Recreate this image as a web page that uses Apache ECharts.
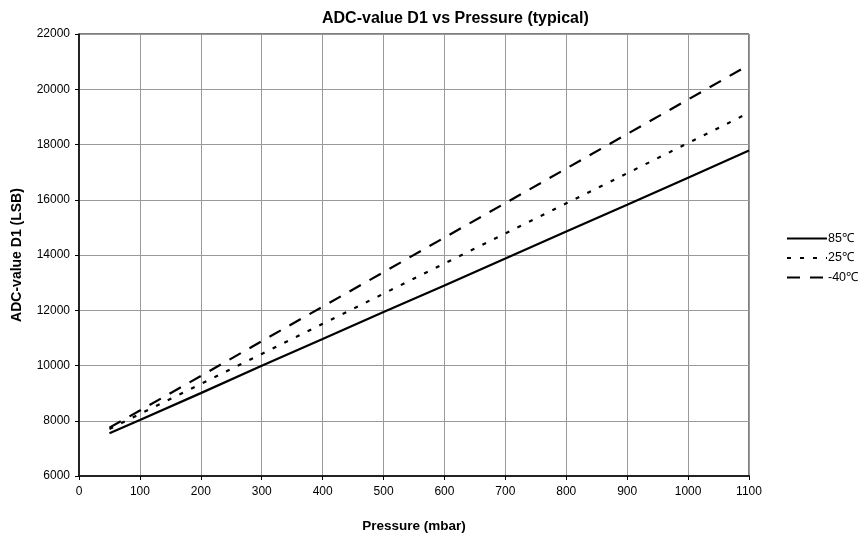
<!DOCTYPE html>
<html><head><meta charset="utf-8">
<script src="https://cdn.jsdelivr.net/npm/echarts@6/dist/echarts.min.js"></script>
<style>html,body{margin:0;padding:0;background:#fff}#c{width:868px;height:538px}</style>
</head><body><div id="c"></div>
<script>
var pressure = [50,100,200,300,400,500,600,700,800,900,1000,1100];
var t85 = [7550,8030,9000,9990,10960,11940,12900,13870,14850,15820,16800,17780];
var t25 = [7700,8250,9330,10420,11510,12600,13690,14780,15870,16960,18050,19150];
var tm40 = [7750,8370,9620,10880,12130,13380,14630,15880,17130,18380,19630,20880];
var names = ['85℃','25℃','-40℃'];
var xTicks = [0,100,200,300,400,500,600,700,800,900,1000,1100];
var yTicks = [6000,8000,10000,12000,14000,16000,18000,20000,22000];

function pts(v){ return pressure.map(function(p,i){return [p,v[i]];}); }
var font = 'Liberation Sans, Arial, sans-serif';
var chart = echarts.init(document.getElementById('c'));
var dashes = ['solid',[4,9],[13,10]];
var data = [t85,t25,tm40];
chart.setOption({
  animation:false,
  title:{text:'ADC-value D1 vs Pressure (typical)',left:317,top:6,
    textStyle:{fontFamily:font,fontSize:16,fontWeight:'bold',color:'#000'}},
  grid:{left:79,top:34,right:119,bottom:62,show:true,borderColor:'#000',borderWidth:1},
  legend:{orient:'vertical',left:781,top:227,itemWidth:40,itemHeight:12,itemGap:6.5,
    itemStyle:{opacity:0},
    textStyle:{fontFamily:font,fontSize:12.5,color:'#000',padding:[0,0,0,-4]},
    data:names},
  xAxis:{type:'value',min:xTicks[0],max:xTicks[xTicks.length-1],interval:100,
    name:'Pressure (mbar)',nameLocation:'middle',nameGap:43,
    nameTextStyle:{fontFamily:font,fontSize:13.5,fontWeight:'bold',color:'#000'},
    axisLine:{show:true,lineStyle:{color:'#222',width:2}},
    axisTick:{show:true,length:4,inside:false,lineStyle:{color:'#000'}},
    axisLabel:{fontFamily:font,fontSize:12,color:'#000',margin:10,
      formatter:function(v){return String(v);}},
    splitLine:{show:true,lineStyle:{color:'#999',width:1}}},
  yAxis:{type:'value',min:yTicks[0],max:yTicks[yTicks.length-1],interval:2000,
    name:'ADC-value D1 (LSB)',nameLocation:'middle',nameGap:55,
    nameTextStyle:{fontFamily:font,fontSize:14,fontWeight:'bold',color:'#000'},
    axisLine:{show:true,lineStyle:{color:'#000',width:1.5}},
    axisTick:{show:true,length:4,lineStyle:{color:'#000'}},
    axisLabel:{fontFamily:font,fontSize:12,color:'#000',margin:9,
      formatter:function(v){return String(v);}},
    splitLine:{show:true,lineStyle:{color:'#999',width:1}}},
  series:names.map(function(n,i){
    return {name:n,type:'line',data:pts(data[i]),showSymbol:false,symbol:'none',
      lineStyle:{color:'#000',width:2.2,type:dashes[i]},itemStyle:{color:'#000'}};
  })
});
</script></body></html>
